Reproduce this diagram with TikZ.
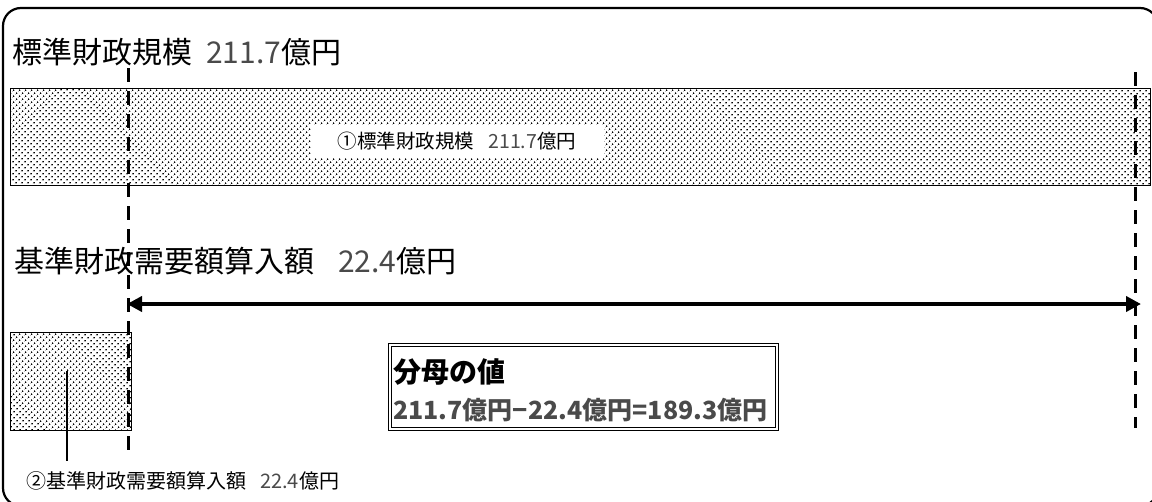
\documentclass[tikz,border=0pt]{standalone}
\usepackage{fontspec}
\setmainfont{Noto Sans CJK JP}
\usetikzlibrary{arrows.meta,patterns.meta}
\definecolor{numgray}{HTML}{4A4A4A}
\begin{document}
\begin{tikzpicture}[x=1pt,y=-1pt,
  dotbox/.style={draw, line width=1.4pt, pattern={Dots[distance=4pt,radius=1pt,angle=45]}, pattern color=black, inner sep=0pt, anchor=north west},
  guide/.style={line width=3pt, dash pattern=on 14pt off 9pt},
  titletext/.style={anchor=west, inner sep=0pt, font=\fontsize{30}{33}\selectfont},
  smalltext/.style={inner sep=0pt, font=\fontsize{19.5}{22}\selectfont},
  boxtext/.style={anchor=west, inner sep=0pt, font=\fontsize{25}{28}\selectfont\bfseries},
  boxline/.style={draw, line width=1pt, inner sep=0pt, anchor=north west}]
\useasboundingbox (0,0) rectangle (1152,501);
\clip (0,0) rectangle (1152,501);
% frame
\draw[rounded corners=18pt, line width=2.2pt] (3,8) rectangle (1158,506);
% titles
\node[titletext] (t1) at (12,52) {標準財政規模\hspace{14pt}{\color{numgray}211.7}億円};
\node[titletext] (t2) at (14,261) {基準財政需要額算入額\hspace{24pt}{\color{numgray}22.4}億円};
% standard scale bar
\node[dotbox, minimum width=1140pt, minimum height=97pt] (std) at (10,88) {};
\node[smalltext, fill=white, minimum width=293pt, minimum height=33pt] (l1) at (457,141.5) {①標準財政規模\hspace{14pt}{\color{numgray}211.7}億円};
% demand bar
\node[dotbox, minimum width=121pt, minimum height=98pt] (dem) at (10,332) {};
\coordinate (ld1) at (67,371);
\coordinate (ld2) at (67,461);
\draw[line width=1.3pt] (ld1) -- (ld2);
\node[smalltext, anchor=west, font=\fontsize{20}{22}\selectfont] (l2) at (26,481) {②基準財政需要額算入額\hspace{14pt}{\color{numgray}22.4}億円};
% guides
\coordinate (gL1) at (128,68);
\coordinate (gL2) at (128,454);
\coordinate (gR1) at (1135,72);
\coordinate (gR2) at (1135,428);
\draw[guide] (gL1) -- (gL2);
\draw[guide] (gR1) -- (gR2);
% arrow
\coordinate (aL) at (127,304);
\coordinate (aR) at (1141,304);
\draw[line width=4pt, {Triangle[length=15pt,width=15pt]}-{Triangle[length=15pt,width=15pt]}] (aL) -- (aR);
% result box (double border)
\node[boxline, minimum width=390pt, minimum height=87pt] (res) at (388,343) {};
\node[boxline, minimum width=384pt, minimum height=81pt] (resin) at (391,346) {};
\node[boxtext, font=\fontsize{28}{30}\selectfont\bfseries] (r1) at (393,372) {分母の値};
\node[boxtext, text=numgray] (r2) at (393,410) {211.7億円−22.4億円=189.3億円};
\end{tikzpicture}
\end{document}
